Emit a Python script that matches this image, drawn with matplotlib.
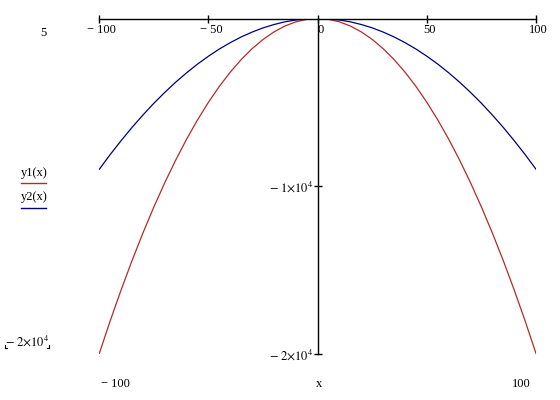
import matplotlib
matplotlib.use("Agg")
import matplotlib.pyplot as plt
import matplotlib.transforms as mtransforms
from matplotlib.lines import Line2D
from matplotlib.ticker import FixedLocator, FixedFormatter

# ---- data ----
x_vals = [-100, -95, -90, -85, -80, -75, -70, -65, -60, -55, -50, -45, -40, -35,
          -30, -25, -20, -15, -10, -5, 0, 5, 10, 15, 20, 25, 30, 35, 40, 45, 50,
          55, 60, 65, 70, 75, 80, 85, 90, 95, 100]
y1_vals = [-20000, -18050, -16200, -14450, -12800, -11250, -9800, -8450, -7200,
           -6050, -5000, -4050, -3200, -2450, -1800, -1250, -800, -450, -200, -50,
           0, -50, -200, -450, -800, -1250, -1800, -2450, -3200, -4050, -5000,
           -6050, -7200, -8450, -9800, -11250, -12800, -14450, -16200, -18050, -20000]
y2_vals = [-9000, -8120, -7290, -6500, -5760, -5060, -4410, -3800, -3240, -2720,
           -2250, -1820, -1440, -1100, -810, -560, -360, -200, -90, -20, 0, -20,
           -90, -200, -360, -560, -810, -1100, -1440, -1820, -2250, -2720, -3240,
           -3800, -4410, -5060, -5760, -6500, -7290, -8120, -9000]

x_ticks = [-100, -50, 0, 50, 100]
x_tick_labels = ["\u2212 100", "\u2212 50", "0", "50", "100"]
y_ticks = [-10000, -20000]
y_tick_labels = [r"$-\;1{\times}10^{4}$", r"$-\;2{\times}10^{4}$"]
legend_labels = ["y1(x)", "y2(x)"]
x_name = "x"

RED = "#b52a2a"
BLUE = "#000080"
FS = 9

plt.rcParams["font.family"] = ["Liberation Serif", "DejaVu Serif"]
plt.rcParams["mathtext.fontset"] = "stix"

W, H = 560, 400
fig = plt.figure(figsize=(W / 100, H / 100), dpi=100)
fig.patch.set_facecolor("white")

def fx(px):
    return px / W

def fy(py):
    return 1 - py / H

left, right, top, bottom = 99.3, 536.0, 18.5, 353.5
ax = fig.add_axes([fx(left), fy(bottom), fx(right) - fx(left), fy(top) - fy(bottom)])
ax.set_xlim(-100, 100)
ax.set_ylim(-20000, 0)

ax.plot(x_vals, y1_vals, color=RED, lw=0.9)
ax.plot(x_vals, y2_vals, color=BLUE, lw=0.9)

for s in ["top", "right"]:
    ax.spines[s].set_visible(False)
ax.spines["bottom"].set_position(("data", 0))
ax.spines["left"].set_position(("data", 0))
for s in ["bottom", "left"]:
    ax.spines[s].set_linewidth(1.0)
    ax.spines[s].set_color("black")
ax.set_facecolor("none")

ax.xaxis.set_major_locator(FixedLocator(x_ticks))
ax.xaxis.set_major_formatter(FixedFormatter(x_tick_labels))
ax.yaxis.set_major_locator(FixedLocator(y_ticks))
ax.yaxis.set_major_formatter(FixedFormatter(y_tick_labels))
ax.tick_params(axis="x", direction="inout", length=6, width=1, labelsize=FS, pad=1)
ax.tick_params(axis="y", direction="inout", length=6, width=1, labelsize=FS, pad=0)

off = mtransforms.ScaledTranslation(2.5 / 100, 0, fig.dpi_scale_trans)
for lbl in ax.get_xticklabels():
    lbl.set_transform(lbl.get_transform() + off)

# Mathcad-style surrounding labels
fig.text(fx(43), fy(33), "5", ha="center", va="center", fontsize=FS)
fig.text(fx(21), fy(173), legend_labels[0], ha="left", va="center", fontsize=FS)
fig.text(fx(21), fy(197), legend_labels[1], ha="left", va="center", fontsize=FS)
fig.add_artist(Line2D([fx(21), fx(46)], [fy(182.5), fy(182.5)], color=RED, lw=1.0))
fig.add_artist(Line2D([fx(21), fx(46)], [fy(207.5), fy(207.5)], color=BLUE, lw=1.0))

fig.text(fx(27), fy(341), r"$-\;2{\times}10^{4}$", ha="center", va="center", fontsize=FS)
# placeholder corner marks
for xa, xb in [(5, 7), (47, 49)]:
    xv = xa if xa < 20 else xb
    fig.add_artist(Line2D([fx(xa), fx(xb)], [fy(348), fy(348)], color="black", lw=0.8))
    fig.add_artist(Line2D([fx(xv), fx(xv)], [fy(345), fy(348)], color="black", lw=0.8))

fig.text(fx(115), fy(384), "\u2212 100", ha="center", va="center", fontsize=FS)
fig.text(fx(319), fy(384), x_name, ha="center", va="center", fontsize=FS)
fig.text(fx(521), fy(384), "100", ha="center", va="center", fontsize=FS)

fig.savefig("out.png", dpi=100, facecolor="white")
